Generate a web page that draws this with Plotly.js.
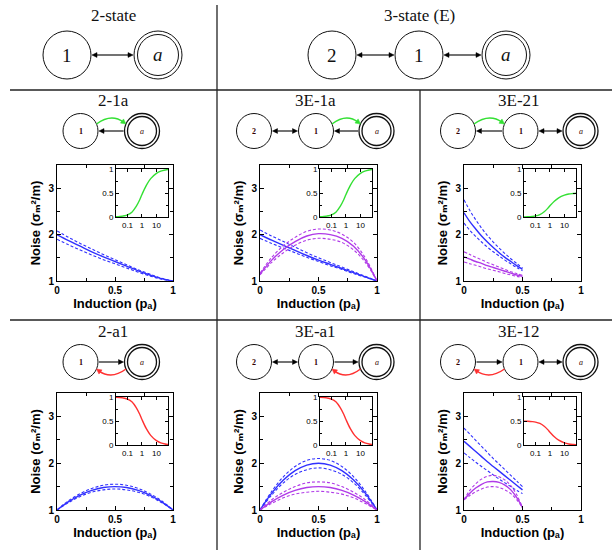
<!DOCTYPE html>
<html><head><meta charset="utf-8">
<script src="https://cdn.plot.ly/plotly-3.0.1.min.js"></script>
<style>html,body{margin:0;padding:0;background:#fff}#c{width:612px;height:550px}</style>
</head><body><div id="c"></div>
<script>
// ---------------- data ----------------
const p = [0,0.1,0.2,0.3,0.4,0.5,0.6,0.7,0.8,0.9,1.0];
const pHalf = [0,0.05,0.1,0.15,0.2,0.25,0.3,0.35,0.4,0.45,0.5];

// 2-1a
const n21a_blue_hi  = [2.08,1.94,1.81,1.69,1.57,1.46,1.35,1.24,1.15,1.06,1.0];
const n21a_blue_mid = [2.00,1.87,1.75,1.63,1.52,1.42,1.32,1.22,1.13,1.05,1.0];
const n21a_blue_lo  = [1.90,1.78,1.67,1.56,1.46,1.37,1.28,1.19,1.11,1.04,1.0];
// 3E-1a
const n3e1a_blue_hi  = [2.10,1.97,1.85,1.73,1.61,1.50,1.40,1.30,1.20,1.10,1.0];
const n3e1a_blue_mid = [2.00,1.88,1.77,1.66,1.55,1.45,1.36,1.27,1.18,1.09,1.0];
const n3e1a_blue_lo  = [1.92,1.81,1.71,1.61,1.51,1.42,1.33,1.25,1.16,1.08,1.0];
const n3e1a_purp_hi  = [1.17,1.51,1.76,1.94,2.07,2.12,2.10,2.01,1.83,1.50,1.0];
const n3e1a_purp_mid = [1.15,1.45,1.68,1.85,1.97,2.02,2.00,1.92,1.75,1.45,1.0];
const n3e1a_purp_lo  = [1.13,1.40,1.61,1.77,1.88,1.92,1.90,1.83,1.67,1.40,1.0];
// 3E-21
const n3e21_blue_hi  = [2.75,2.52,2.32,2.14,1.98,1.84,1.71,1.59,1.48,1.38,1.28];
const n3e21_blue_mid = [2.47,2.28,2.12,1.97,1.84,1.72,1.61,1.51,1.42,1.33,1.25];
const n3e21_blue_lo  = [2.25,2.09,1.96,1.84,1.73,1.63,1.54,1.45,1.37,1.29,1.22];
const n3e21_purp_hi  = [1.63,1.57,1.51,1.46,1.40,1.35,1.30,1.25,1.20,1.16,1.12];
const n3e21_purp_mid = [1.52,1.47,1.42,1.38,1.33,1.29,1.25,1.21,1.17,1.13,1.10];
const n3e21_purp_lo  = [1.41,1.37,1.34,1.30,1.26,1.23,1.20,1.16,1.13,1.10,1.08];
// 2-a1
const n2a1_blue_hi  = [1.0,1.20,1.35,1.46,1.53,1.55,1.53,1.46,1.35,1.20,1.0];
const n2a1_blue_mid = [1.0,1.18,1.32,1.42,1.48,1.50,1.48,1.42,1.32,1.18,1.0];
const n2a1_blue_lo  = [1.0,1.16,1.29,1.38,1.43,1.45,1.43,1.38,1.29,1.16,1.0];
// 3E-a1
const n3ea1_blue_hi  = [1.0,1.40,1.71,1.93,2.06,2.10,2.06,1.93,1.71,1.40,1.0];
const n3ea1_blue_mid = [1.0,1.36,1.64,1.84,1.96,2.00,1.96,1.84,1.64,1.36,1.0];
const n3ea1_blue_lo  = [1.0,1.32,1.58,1.76,1.86,1.90,1.86,1.76,1.58,1.32,1.0];
const n3ea1_purp_hi  = [1.0,1.22,1.38,1.50,1.58,1.60,1.58,1.50,1.38,1.22,1.0];
const n3ea1_purp_mid = [1.0,1.18,1.32,1.42,1.48,1.50,1.48,1.42,1.32,1.18,1.0];
const n3ea1_purp_lo  = [1.0,1.14,1.26,1.34,1.38,1.40,1.38,1.34,1.26,1.14,1.0];
// 3E-12
const n3e12_blue_hi  = [2.75,2.62,2.49,2.36,2.23,2.10,1.98,1.86,1.74,1.62,1.50];
const n3e12_blue_mid = [2.47,2.36,2.25,2.14,2.03,1.93,1.83,1.73,1.63,1.53,1.43];
const n3e12_blue_lo  = [2.22,2.12,2.02,1.93,1.84,1.75,1.66,1.58,1.50,1.42,1.35];
const n3e12_purp_hi  = [1.22,1.42,1.56,1.66,1.72,1.74,1.71,1.64,1.52,1.33,1.05];
const n3e12_purp_mid = [1.22,1.36,1.47,1.55,1.60,1.61,1.59,1.53,1.43,1.27,1.05];
const n3e12_purp_lo  = [1.22,1.31,1.39,1.45,1.49,1.50,1.48,1.43,1.35,1.22,1.05];

// insets
const insetX    = [0.016,0.03,0.06,0.1,0.2,0.4,0.7,1,2,4,10,20,40,63];
const greenFull = [0.005,0.01,0.025,0.045,0.10,0.22,0.36,0.47,0.66,0.80,0.91,0.955,0.98,0.99];
const greenHalf = [0.003,0.005,0.012,0.022,0.05,0.11,0.18,0.235,0.33,0.40,0.455,0.48,0.49,0.495];
const redFull   = [0.995,0.99,0.975,0.955,0.90,0.78,0.64,0.53,0.34,0.20,0.09,0.045,0.02,0.01];
const redHalf   = [0.497,0.495,0.488,0.478,0.45,0.39,0.32,0.265,0.17,0.10,0.045,0.022,0.01,0.005];

const xTickVals = [0,0.5,1];
const xTickText = ['0','0.5','1'];
const yTickVals = [1,2,3];
const yTickText = ['1','2','3'];
const inXTickVals = [0.1,1,10];
const inXTickText = ['0.1','1','10'];
const inYTickVals = [0,0.5,1];
const inYTickText = ['0','0.5','1'];

const panelTitles = ['2-1a','3E-1a','3E-21','2-a1','3E-a1','3E-12'];
const xTitle = 'Induction (pₐ)';
const yTitle = 'Noise (σₘ²/m)';

// --------------- style / layout ---------------
const W=612,H=550;
const X=v=>v/W, Y=v=>1-v/H;
const BLUE='#3030ff', PURP='#b03ae8', GREEN='#33e033', RED='#ff3030';
const SANS='Liberation Sans, DejaVu Sans, Arial, sans-serif';
const SERIF='Liberation Serif, DejaVu Serif, serif';

const panels = [
  {x:p, series:[[n21a_blue_hi,BLUE,1],[n21a_blue_lo,BLUE,1],[n21a_blue_mid,BLUE,0]], ins:greenFull, ic:GREEN},
  {x:p, series:[[n3e1a_blue_hi,BLUE,1],[n3e1a_blue_lo,BLUE,1],[n3e1a_blue_mid,BLUE,0],[n3e1a_purp_hi,PURP,1],[n3e1a_purp_lo,PURP,1],[n3e1a_purp_mid,PURP,0]], ins:greenFull, ic:GREEN},
  {x:pHalf, series:[[n3e21_blue_hi,BLUE,1],[n3e21_blue_lo,BLUE,1],[n3e21_blue_mid,BLUE,0],[n3e21_purp_hi,PURP,1],[n3e21_purp_lo,PURP,1],[n3e21_purp_mid,PURP,0]], ins:greenHalf, ic:GREEN},
  {x:p, series:[[n2a1_blue_hi,BLUE,1],[n2a1_blue_lo,BLUE,1],[n2a1_blue_mid,BLUE,0]], ins:redFull, ic:RED},
  {x:p, series:[[n3ea1_blue_hi,BLUE,1],[n3ea1_blue_lo,BLUE,1],[n3ea1_blue_mid,BLUE,0],[n3ea1_purp_hi,PURP,1],[n3ea1_purp_lo,PURP,1],[n3ea1_purp_mid,PURP,0]], ins:redFull, ic:RED},
  {x:pHalf, series:[[n3e12_blue_hi,BLUE,1],[n3e12_blue_lo,BLUE,1],[n3e12_blue_mid,BLUE,0],[n3e12_purp_hi,PURP,1],[n3e12_purp_lo,PURP,1],[n3e12_purp_mid,PURP,0]], ins:redHalf, ic:RED},
];

const colX = [[57,173],[260,377],[464,581]];
const rowY = [[165,281],[393,510]];
const diagCX = [[80.5,null,142],[254,316,376.5],[458,520.5,580.5]];
const rowDiagY = [131,362];
const rowTitleY = [101,331];

const traces=[], layout={
  width:W, height:H, margin:{l:0,r:0,t:0,b:0}, showlegend:false,
  paper_bgcolor:'#fff', plot_bgcolor:'#fff', shapes:[], annotations:[]
};

panels.forEach((pn,k)=>{
  const i=k+1, j=k+7;
  const c=colX[k%3], r=rowY[Math.floor(k/3)];
  pn.series.forEach(s=>{
    traces.push({x:pn.x, y:s[0], xaxis:'x'+i, yaxis:'y'+i, mode:'lines',
      line:{color:s[1], width:s[2]?1.1:1.4, dash:s[2]?'3px,2px':'solid', shape:'spline', smoothing:1}, hoverinfo:'skip'});
  });
  traces.push({x:insetX, y:pn.ins, xaxis:'x'+j, yaxis:'y'+j, mode:'lines',
    line:{color:pn.ic, width:1.4, shape:'spline', smoothing:1}, hoverinfo:'skip'});
  const common = {ticks:'inside', ticklen:4, tickwidth:1, tickcolor:'#000', mirror:'allticks', showline:true,
    linecolor:'#000', linewidth:1, showgrid:false, zeroline:false, automargin:false};
  layout['xaxis'+i] = Object.assign({}, common, {domain:[X(c[0]),X(c[1])], anchor:'y'+i, range:[0,1],
    tickmode:'array', tickvals:xTickVals, ticktext:xTickText,
    minor:{dtick:0.25, tick0:0, ticks:'inside', ticklen:3, tickcolor:'#000', showgrid:false},
    tickfont:{family:SANS,size:10,weight:'bold',color:'#000'},
    title:{text:xTitle, font:{family:SANS,size:13,weight:'bold',color:'#000'}, standoff:3}});
  layout['yaxis'+i] = Object.assign({}, common, {domain:[Y(r[1]),Y(r[0])], anchor:'x'+i, range:[1,3.5],
    tickmode:'array', tickvals:yTickVals, ticktext:yTickText,
    minor:{dtick:0.5, tick0:1, ticks:'inside', ticklen:3, tickcolor:'#000', showgrid:false},
    tickfont:{family:SANS,size:10,weight:'bold',color:'#000'},
    title:{text:yTitle, font:{family:SANS,size:13,weight:'bold',color:'#000'}, standoff:4}});
  // inset
  const ix=[c[1]-57, c[1]-5], iy=[r[0]+4, r[0]+52];
  layout['xaxis'+j] = Object.assign({}, common, {domain:[X(ix[0]),X(ix[1])], anchor:'y'+j, type:'log',
    range:[Math.log10(0.016),Math.log10(63)], tickmode:'array', tickvals:inXTickVals, ticktext:inXTickText, ticklen:3,
    tickfont:{family:SANS,size:8,color:'#000'}});
  layout['yaxis'+j] = Object.assign({}, common, {domain:[Y(iy[1]),Y(iy[0])], anchor:'x'+j, range:[0,1],
    tickmode:'array', tickvals:inYTickVals, ticktext:inYTickText, ticklen:3,
    minor:{dtick:0.25, tick0:0, ticks:'inside', ticklen:2, tickcolor:'#000', showgrid:false},
    tickfont:{family:SANS,size:8,color:'#000'}});
});

// ---------- separators ----------
const LC='#222';
const seg=(x0,y0,x1,y1,color,w)=>layout.shapes.push({type:'line',xref:'paper',yref:'paper',x0:X(x0),y0:Y(y0),x1:X(x1),y1:Y(y1),line:{color:color,width:w}});
seg(217,5,217,550,LC,1.3); seg(420,90,420,550,LC,1.3); seg(10,90,612,90,LC,1.3); seg(10,320,612,320,LC,1.3);

// ---------- state diagrams ----------
const circ=(cx,cy,r,w)=>layout.shapes.push({type:'circle',xref:'paper',yref:'paper',x0:X(cx-r),x1:X(cx+r),y0:Y(cy+r),y1:Y(cy-r),line:{color:'#111',width:w||1}});
const txt=(x,y,t,size,font)=>layout.annotations.push({x:X(x),y:Y(y),xref:'paper',yref:'paper',text:t,showarrow:false,xanchor:'center',yanchor:'middle',font:font||{family:SERIF,size:size,color:'#111'}});
const head=(hx,hy,ux,uy,color,len,wid)=>{
  const bx=hx-len*ux, by=hy-len*uy, nx=-uy, ny=ux;
  layout.shapes.push({type:'path',xref:'paper',yref:'paper',fillcolor:color,line:{color:color,width:0.5},
    path:`M ${X(hx)},${Y(hy)} L ${X(bx+wid*nx)},${Y(by+wid*ny)} L ${X(bx-wid*nx)},${Y(by-wid*ny)} Z`});
};
const arrow=(x1,y1,x2,y2,both,color,w,len)=>{
  color=color||'#000'; len=len||5;
  const dx=x2-x1, dy=y2-y1, L=Math.hypot(dx,dy), ux=dx/L, uy=dy/L;
  const sx=both?x1+len*ux:x1, sy=both?y1+len*uy:y1;
  seg(sx,sy,x2-len*ux,y2-len*uy,color,w||1.1);
  head(x2,y2,ux,uy,color,len,2.4);
  if(both) head(x1,y1,-ux,-uy,color,len,2.4);
};
const arc=(x1,y1,cx,cy,x2,y2,color)=>{
  const dx=x2-cx, dy=y2-cy, L=Math.hypot(dx,dy), ux=dx/L, uy=dy/L;
  layout.shapes.push({type:'path',xref:'paper',yref:'paper',path:`M ${X(x1)},${Y(y1)} Q ${X(cx)},${Y(cy)} ${X(x2-3*ux)},${Y(y2-3*uy)}`,line:{color:color,width:1.5}});
  head(x2,y2,ux,uy,color,5,2.6);
};
const stateA=(cx,cy,r,ri,w)=>{circ(cx,cy,r,w); circ(cx,cy,ri,w);};

// top row
txt(113,16,'2-state',17); txt(419,16,'3-state (E)',17);
circ(67,55,24); stateA(158,55,24,20.5);
txt(67,56,'1',19); txt(158,55,'<i>a</i>',19);
arrow(92,55,133,55,true,'#000',1.1);
[[332,'2'],[419,'1']].forEach(d=>{circ(d[0],55,24); txt(d[0],56,d[1],19);});
stateA(506,55,24,20.5); txt(506,55,'<i>a</i>',19);
arrow(357,55,394,55,true,'#000',1.1); arrow(444,55,481,55,true,'#000',1.1);

// rows 2 and 3
const R=17.5, RI=14.5;
const smallFont={family:SERIF,size:8,color:'#300',weight:'bold'};
panels.forEach((pn,k)=>{
  const col=k%3, row=Math.floor(k/3), cy=rowDiagY[row];
  const cxs=diagCX[col];
  txt((col===0?113:(cxs[0]+cxs[2])/2), rowTitleY[row], panelTitles[k], 17);
  const c2=cxs[0], c1=cxs[1], ca=cxs[2];
  if(col===0){
    circ(c2,cy,R); txt(c2,cy,'1',8,smallFont);
  } else {
    circ(c2,cy,R); txt(c2,cy,'2',8,smallFont);
    circ(c1,cy,R); txt(c1,cy,'1',8,smallFont);
  }
  stateA(ca,cy,R,RI,1.3); txt(ca,cy,'<i>a</i>',8,{family:SERIF,size:8,color:'#300'});
  const left = col===0?c2:c1;
  const green=(L,Rt)=>arc(L+16,cy-7,(L+Rt)/2,cy-18,Rt-16,cy-7,GREEN);
  const red=(L,Rt)=>arc(Rt-16,cy+7,(L+Rt)/2,cy+18,L+16,cy+7,RED);
  if(col>0 && !(k===2 || k===5)) arrow(c2+R+1,cy,c1-R-1,cy,true);
  if(k===0||k===1){ green(left,ca); arrow(ca-R-1,cy,left+R+1,cy); }
  if(k===3||k===4){ red(left,ca); arrow(left+R+1,cy,ca-R-1,cy); }
  if(k===2){ green(c2,c1); arrow(c1-R-1,cy,c2+R+1,cy); arrow(c1+R+1,cy,ca-R-1,cy,true); }
  if(k===5){ red(c2,c1); arrow(c2+R+1,cy,c1-R-1,cy); arrow(c1+R+1,cy,ca-R-1,cy,true); }
});

Plotly.newPlot('c', traces, layout, {staticPlot:true, displayModeBar:false});
</script></body></html>
